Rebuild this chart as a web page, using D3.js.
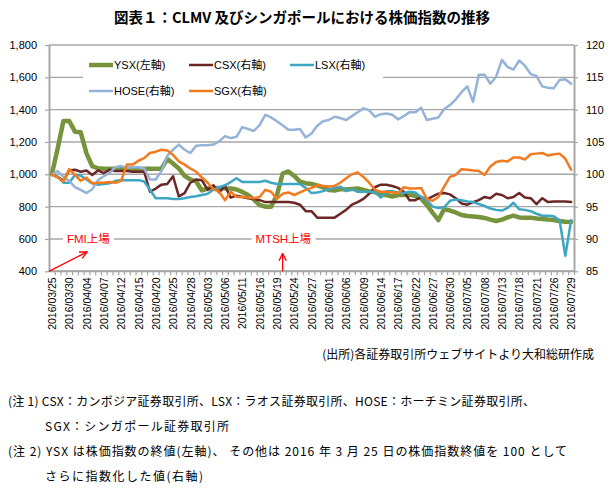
<!DOCTYPE html>
<html><head><meta charset="utf-8">
<script src="https://cdn.jsdelivr.net/npm/d3@7"></script>
<style>body{margin:0;background:#fff}svg{display:block}</style>
</head><body><svg id="c" width="610" height="490"></svg>
<script>
// ---- data ----
const dates = ["2016/03/25","2016/03/28","2016/03/29","2016/03/30","2016/03/31","2016/04/01","2016/04/04","2016/04/05","2016/04/06","2016/04/07",
"2016/04/08","2016/04/11","2016/04/12","2016/04/13","2016/04/14","2016/04/15","2016/04/18","2016/04/19","2016/04/20","2016/04/21",
"2016/04/22","2016/04/25","2016/04/26","2016/04/27","2016/04/28","2016/04/29","2016/05/02","2016/05/03","2016/05/04","2016/05/05",
"2016/05/06","2016/05/09","2016/05/10","2016/05/11","2016/05/12","2016/05/13","2016/05/16","2016/05/17","2016/05/18","2016/05/19",
"2016/05/20","2016/05/23","2016/05/24","2016/05/25","2016/05/26","2016/05/27","2016/05/30","2016/05/31","2016/06/01","2016/06/02",
"2016/06/03","2016/06/06","2016/06/07","2016/06/08","2016/06/09","2016/06/10","2016/06/13","2016/06/14","2016/06/15","2016/06/16",
"2016/06/17","2016/06/20","2016/06/21","2016/06/22","2016/06/23","2016/06/24","2016/06/27","2016/06/28","2016/06/29","2016/06/30",
"2016/07/01","2016/07/04","2016/07/05","2016/07/06","2016/07/07","2016/07/08","2016/07/11","2016/07/12","2016/07/13","2016/07/14",
"2016/07/15","2016/07/18","2016/07/19","2016/07/20","2016/07/21","2016/07/22","2016/07/25","2016/07/26","2016/07/27","2016/07/28",
"2016/07/29"];

const ysx = [1000,1160,1330,1330,1264,1260,1130,1050,1037,1035,
1035,1035,1035,1035,1035,1035,1035,1035,1035,1035,
1095,1067,1036,990,968,956,900,912,912,915,
913,913,906,891,872,844,810,800,800,870,
1005,1018,990,955,945,940,931,919,903,900,
909,906,909,912,903,894,891,872,872,863,
872,872,875,866,850,810,761,717,785,776,
764,748,742,739,736,730,720,711,720,733,
744,733,732,732,727,724,720,717,711,706,
705];

const csx = [100,99.6,99.0,100.6,100.7,100.4,100.6,99.9,100.6,100.2,
100.7,100.5,100.5,100.5,100.4,100.4,100.4,97.3,97.8,98.4,
98.5,99.7,96.6,97.1,98.7,99.2,99.1,97.6,98.3,97.2,
98.2,96.4,96.7,96.5,96.3,96.2,96.0,95.7,95.7,95.7,
95.7,95.7,95.6,95.3,94.3,94.3,93.3,93.3,93.3,93.3,
93.9,94.5,95.3,95.7,96.2,97.0,98.0,98.4,98.4,98.2,
97.9,97.3,96.0,96.0,96.5,96.1,96.6,97.0,97.1,96.9,
96.3,95.5,95.3,95.7,96.0,96.5,96.3,97.0,96.8,96.3,
96.5,97.1,96.4,96.3,95.4,96.3,95.7,95.8,95.8,95.8,
95.7];

const lsx = [100,99.6,98.7,98.7,99.9,99.8,99.2,98.6,98.4,98.5,
98.6,99.0,99.1,99.1,99.1,99.1,98.9,97.6,96.3,96.3,
96.3,96.2,96.2,96.3,96.5,96.6,96.8,97.0,97.6,98.0,
98.3,98.8,99.4,98.8,98.8,98.8,98.8,99.0,98.7,98.5,
98.5,98.5,98.5,98.5,97.9,97.1,97.2,97.4,97.7,97.9,
98.1,97.4,97.7,97.3,97.3,97.3,97.3,96.4,97.4,97.4,
97.2,97.1,97.3,97.2,96.5,96.0,95.0,94.8,94.9,95.9,
96.1,96.0,95.8,95.7,95.4,95.1,94.7,94.5,94.4,94.8,
95.6,94.6,94.5,94.3,93.9,93.6,93.6,93.5,92.9,87.4,
92.9];

const hose = [100,100.5,99.6,99.0,98.0,97.6,97.1,97.7,99.1,99.7,
100.2,101.1,101.3,101.0,101.1,101.1,100.9,99.2,99.2,100.5,
102.9,103.8,104.6,103.8,103.3,104.4,104.5,104.5,104.6,105.1,
105.9,105.6,105.8,107.3,107.0,106.7,107.6,109.2,108.8,108.2,
107.6,106.9,106.9,107.0,105.7,106.3,107.5,108.2,108.4,108.9,
108.7,108.4,109.0,109.6,110.2,109.9,108.9,109.3,109.4,109.2,
108.5,109.0,109.6,109.6,110.3,108.4,108.6,108.8,110.1,110.7,
111.6,112.7,113.6,111.2,115.4,115.4,114.0,115.1,117.7,116.6,
116.2,117.6,116.8,115.5,115.2,113.6,113.4,113.3,114.6,114.7,
114.0];

const sgx = [100,99.5,98.9,100.8,99.9,99.0,99.5,98.6,98.7,98.7,
98.8,98.7,99.0,101.5,101.5,102.1,102.5,103.3,103.5,103.8,
103.7,103.0,102.0,101.5,100.9,100.4,99.5,98.7,97.7,97.3,
96.0,97.3,96.5,96.5,96.4,96.3,96.5,97.6,97.3,96.2,
97.0,97.2,96.8,97.2,97.6,97.9,98.3,98.2,98.1,98.2,
98.7,99.4,100.0,100.3,99.6,98.7,97.6,97.3,97.3,97.2,
97.1,98.0,97.8,97.8,97.9,96.2,95.9,96.5,98.1,99.6,
99.9,100.8,100.7,100.6,100.5,99.9,101.2,101.9,102.1,102.0,
102.6,102.6,102.3,103.1,103.2,103.3,102.9,103.1,103.2,102.4,
100.7];

const leftTicks = [400,600,800,1000,1200,1400,1600,1800];
const rightTicks = [85,90,95,100,105,110,115,120];
const seriesNames = ["YSX(左軸)","CSX(右軸)","LSX(右軸)","HOSE(右軸)","SGX(右軸)"];
const title = "図表１：CLMV 及びシンガポールにおける株価指数の推移";
const source = "(出所)各証券取引所ウェブサイトより大和総研作成";
const notes = ["(注 1) CSX：カンボジア証券取引所、LSX：ラオス証券取引所、HOSE：ホーチミン証券取引所、",
               "SGX：シンガポール証券取引所",
               "(注 2) YSX は株価指数の終値(左軸)、 その他は 2016 年 3 月 25 日の株価指数終値を 100 として",
               "さらに指数化した値(右軸)"];
const events = [{label:"FMI上場", date:"2016/03/25"},{label:"MTSH上場", date:"2016/05/20"}];

// ---- layout ----
const L = 49, R = 574, T = 45, B = 271.3;
const svg = d3.select("#c");
const x = d3.scalePoint().domain(dates).range([L, R]).padding(0.5);
const yL = d3.scaleLinear().domain([400, 1800]).range([B, T]);
const yR = d3.scaleLinear().domain([85, 120]).range([B, T]);
const idx = d3.scaleLinear().domain([0, dates.length - 1]).range([x(dates[0]), x(dates[dates.length-1])]);

const grid = "#A6A6A6";
const latin = "'Liberation Sans', Arial, 'Noto Sans CJK JP', sans-serif";
const jp = "'Noto Sans CJK JP', sans-serif";

// title
svg.append("text").attr("x", 302).attr("y", 23).attr("text-anchor", "middle")
  .attr("font-family", jp).attr("font-weight", "bold").attr("font-size", 14.5).text(title);

// gridlines
svg.append("g").selectAll("line").data(leftTicks).join("line")
  .attr("x1", L).attr("x2", R).attr("y1", d => yL(d)).attr("y2", d => yL(d))
  .attr("stroke", grid).attr("stroke-width", 1.4);

// axes
function styleAxis(g) {
  g.select(".domain").attr("stroke", grid).attr("stroke-width", 2);
  g.selectAll(".tick line").attr("stroke", grid).attr("stroke-width", 1.2);
  g.selectAll("text").attr("font-family", latin).attr("font-size", 11).attr("fill", "#000");
}
svg.append("g").attr("transform", `translate(${L},0)`)
  .call(d3.axisLeft(yL).tickValues(leftTicks).tickFormat(d3.format(",")).tickSize(4).tickPadding(8).tickSizeOuter(0))
  .call(styleAxis);
svg.append("g").attr("transform", `translate(${R},0)`)
  .call(d3.axisRight(yR).tickValues(rightTicks).tickSize(4).tickPadding(8).tickSizeOuter(0))
  .call(styleAxis);
const xa = svg.append("g").attr("transform", `translate(0,${B})`)
  .call(d3.axisBottom(x).tickSize(4).tickSizeOuter(0).tickFormat((d, i) => i % 3 === 0 ? d : ""))
  .call(styleAxis);
xa.select(".domain").attr("d", `M${L},0H${R}`);
xa.selectAll(".tick line").attr("transform", `translate(${x.step()/2},0)`);
xa.selectAll("text").attr("font-size", 10.5).attr("transform", "rotate(-90)")
  .attr("text-anchor", "end").attr("x", -6).attr("y", 0).attr("dy", "0.35em");

// lines
const colors = ["#77933C", "#6B2725", "#3FA6C2", "#95B3D7", "#F27B1F"];
const widths = [4.5, 2.5, 2.5, 2.5, 2.5];
const data = [ysx, csx, lsx, hose, sgx];
const scales = [yL, yR, yR, yR, yR];
const lg = svg.append("g").attr("fill", "none").attr("stroke-linejoin", "round").attr("stroke-linecap", "round");
data.forEach((s, k) => {
  lg.append("path").datum(s)
    .attr("d", d3.line().x((d, i) => x(dates[i])).y(d => scales[k](d)))
    .attr("stroke", colors[k]).attr("stroke-width", widths[k]);
});

// legend
const leg = svg.append("g");
leg.append("rect").attr("x", 83).attr("y", 53).attr("width", 300).attr("height", 50).attr("fill", "#fff");
const legPos = [[89,65],[189,65],[290,65],[89,91],[189,91]];
seriesNames.forEach((n, k) => {
  const [lx, ly] = legPos[k];
  leg.append("line").attr("x1", lx).attr("x2", lx + 24).attr("y1", ly).attr("y2", ly)
    .attr("stroke", colors[k]).attr("stroke-width", k === 0 ? 4.5 : 2.5);
  leg.append("text").attr("x", lx + 25).attr("y", ly).attr("dy", "0.35em")
    .attr("font-family", latin).attr("font-size", 11).text(n);
});

// annotations
svg.append("defs").append("marker").attr("id", "arr").attr("viewBox", "0 0 10 10")
  .attr("refX", 9).attr("refY", 5).attr("markerWidth", 7).attr("markerHeight", 7).attr("orient", "auto")
  .append("path").attr("d", "M1,1 L9,5 L1,9").attr("fill", "none").attr("stroke", "red").attr("stroke-width", 1.5);
const ann = svg.append("g");
const evText = [{i: 2.6, v: 600}, {i: 35.3, v: 600}];
events.forEach((e, k) => {
  const tx = idx(evText[k].i), ty = yL(evText[k].v);
  const t = ann.append("text").attr("x", tx).attr("y", ty).attr("dy", "0.35em")
    .attr("font-family", latin).attr("font-size", 11.5).attr("fill", "red").text(e.label);
  const bb = t.node().getBBox();
  ann.insert("rect", "text").attr("x", bb.x - 4).attr("y", ty - 3).attr("width", bb.width + 8).attr("height", 6).attr("fill", "#fff");
});
const i1 = dates.indexOf(events[1].date);
ann.append("line").attr("x1", L).attr("y1", yL(400)).attr("x2", idx(6.1)).attr("y2", yL(520))
  .attr("stroke", "red").attr("stroke-width", 1.3).attr("marker-end", "url(#arr)");
ann.append("line").attr("x1", x(dates[i1])).attr("y1", yL(400)).attr("x2", x(dates[i1])).attr("y2", yL(510))
  .attr("stroke", "red").attr("stroke-width", 1.3).attr("marker-end", "url(#arr)");

// source & notes
svg.append("text").attr("x", 594).attr("y", 359).attr("text-anchor", "end")
  .attr("font-family", jp).attr("font-size", 12).text(source);
const noteX = [8, 45, 8, 45], noteY = [406, 431, 456, 481], noteW = [527, 184, 559, 158];
notes.forEach((n, k) => {
  svg.append("text").attr("x", noteX[k]).attr("y", noteY[k]).attr("font-family", jp).attr("font-size", 12)
    .attr("textLength", noteW[k]).attr("lengthAdjust", "spacing").text(n);
});
</script></body></html>
